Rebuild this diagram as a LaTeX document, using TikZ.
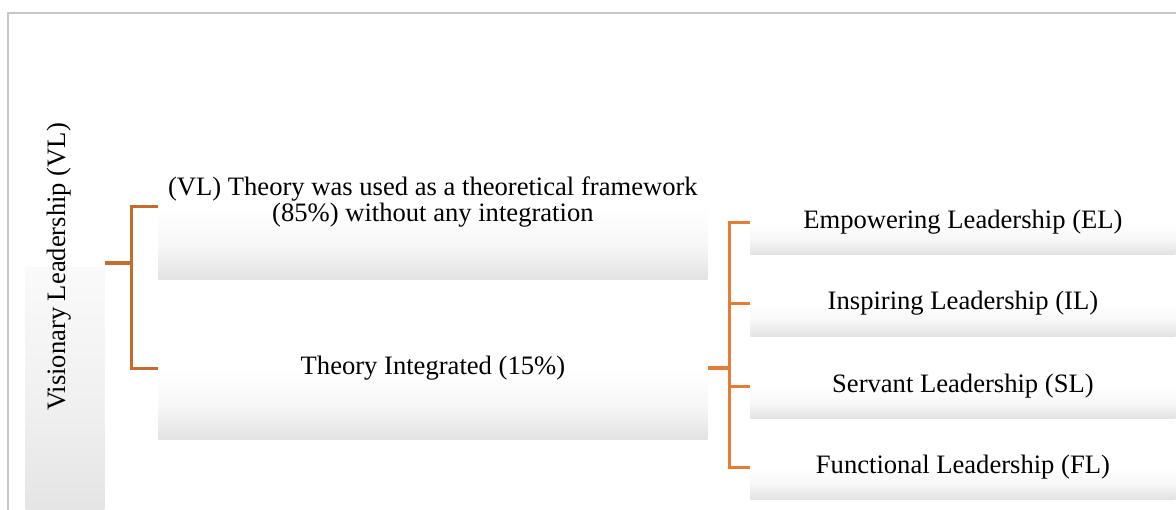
\documentclass[tikz,border=0pt]{standalone}
\usepackage{fontspec}
\setmainfont{Liberation Serif}
\begin{document}
\begin{tikzpicture}[x=0.5pt,y=-0.5pt,
  boxshade/.style={shade, top color=white, bottom color=black!11, middle color=black!3, draw=none, inner sep=0pt, anchor=north west},
  lbl/.style={font=\fontsize{13.3}{13}\selectfont, align=center, inner sep=0pt},
  conA/.style={draw={rgb,255:red,196;green,108;blue,48}, line width=1.5pt},
  conB/.style={draw={rgb,255:red,228;green,124;blue,50}, line width=1.5pt}]
\useasboundingbox (0,0) rectangle (1176,509);
\clip (0,0) rectangle (1176,509);
% outer frame
\draw[black!22, line width=1pt] (7.5,13) rectangle (1200,540);
% boxes
\node[boxshade, top color=black!2, bottom color=black!12, middle color=black!6, minimum width=39.5pt, minimum height=140pt] (vl) at (25,267) {};
\node[boxshade, minimum width=274.5pt, minimum height=36.5pt] (b1) at (158,206) {};
\node[boxshade, minimum width=274.5pt, minimum height=35.5pt] (b2) at (158,368) {};
\node[boxshade, minimum width=212.5pt, minimum height=16pt] (r1) at (750,222) {};
\node[boxshade, minimum width=212.5pt, minimum height=16.5pt] (r2) at (750,303) {};
\node[boxshade, minimum width=212.5pt, minimum height=16pt] (r3) at (750,386) {};
\node[boxshade, minimum width=212.5pt, minimum height=16pt] (r4) at (750,467) {};
% labels
\node[lbl, rotate=90] (tvl) at ([xshift=-3]vl.north) {Visionary Leadership (VL)};
\node[lbl] (t1) at ([yshift=2]b1.north) {(VL) Theory was used as a theoretical framework\\(85\%) without any integration};
\node[lbl] (t2) at (b2.north) {Theory Integrated (15\%)};
\node[lbl] (tr1) at (r1.north) {Empowering Leadership (EL)};
\node[lbl] (tr2) at (r2.north) {Inspiring Leadership (IL)};
\node[lbl] (tr3) at (r3.north) {Servant Leadership (SL)};
\node[lbl] (tr4) at (r4.north) {Functional Leadership (FL)};
% connectors
\coordinate (ja) at (131,263);
\coordinate (jb) at (729,368);
\draw[conA, line width=2pt] (vl.north east |- ja) -- (ja);
\draw[conA] (b1.north west) -| (ja) |- (b2.north west);
\draw[conB, line width=1.9pt] (b2.north east) -- (jb);
\draw[conB] (r1.north west) -| (jb) |- (r4.north west);
\draw[conB] (jb |- r2.north west) -- (r2.north west);
\draw[conB] (jb |- r3.north west) -- (r3.north west);
\end{tikzpicture}
\end{document}
